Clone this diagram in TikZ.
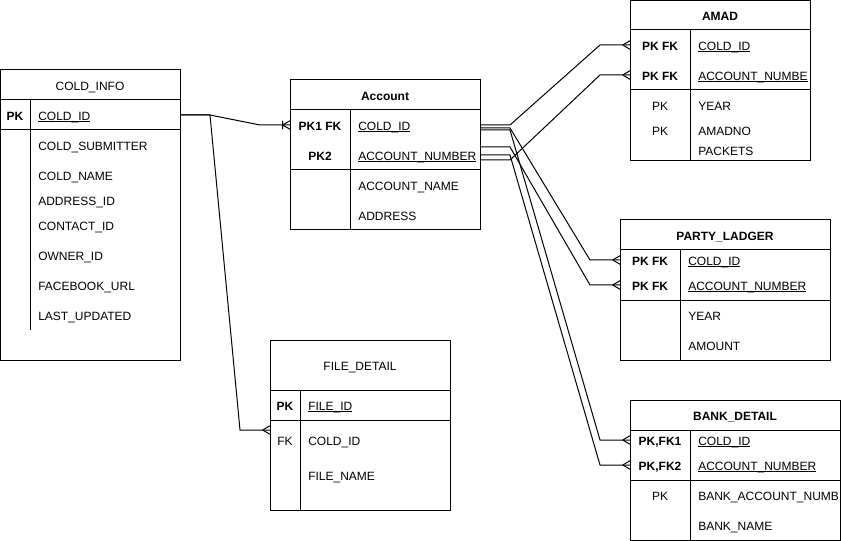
\documentclass[tikz,border=0pt]{standalone}
\usepackage{fontspec}
\setmainfont{Liberation Sans}
\usetikzlibrary{decorations.markings}
\newcommand{\keyname}[1]{\setbox0\hbox{#1}\rlap{\rule[-1.7pt]{\wd0}{0.7pt}}\box0}
\begin{document}
\begin{tikzpicture}[x=0.75pt,y=-0.75pt,
  tbl/.style={draw, line width=0.75pt, anchor=north west, inner sep=0pt, outer sep=0pt},
  rule/.style={line width=0.75pt},
  txtbase/.style={font=\fontsize{9}{11}\selectfont, inner sep=0pt, text height=6.5pt, text depth=0pt, yshift=-0.6pt},
  hd/.style={txtbase, font=\fontsize{9}{11}\selectfont\bfseries},
  hdl/.style={txtbase},
  kc/.style={txtbase, font=\fontsize{9}{11}\selectfont\bfseries},
  kn/.style={txtbase},
  fld/.style={txtbase, anchor=west},
  conn/.style={line width=0.75pt},
  crowfoot/.style={postaction={decorate, decoration={markings,
    mark=at position 1 with {\draw[line width=0.75pt] (-5.5pt,0pt) -- (0pt,3.2pt) (-5.5pt,0pt) -- (0pt,-3.2pt);}}}},
  onemany/.style={postaction={decorate, decoration={markings,
    mark=at position 1 with {\draw[line width=0.75pt] (-5.5pt,0pt) -- (0pt,3.2pt) (-5.5pt,0pt) -- (0pt,-3.2pt) (-5.5pt,-3.2pt) -- (-5.5pt,3.2pt);}}}}
]
\useasboundingbox (0,0) rectangle (841,541);

% ---------- COLD_INFO ----------
\node[tbl, minimum width={180*0.75pt}, minimum height={290*0.75pt}] (coldinfo) at (0,70) {};
\draw[rule] (0,100) -- (180,100) (0,130) -- (180,130) (30,100) -- (30,330);
\node[hdl] (ci-h) at (90,85) {COLD\_INFO};
\node[kc] (ci-k1) at (15,115) {PK};
\node[fld] (ci-f1) at (38,115) {\keyname{COLD\_ID}};
\node[fld] (ci-f2) at (38,145) {COLD\_SUBMITTER};
\node[fld] (ci-f3) at (38,175) {COLD\_NAME};
\node[fld] (ci-f4) at (38,200) {ADDRESS\_ID};
\node[fld] (ci-f5) at (38,225) {CONTACT\_ID};
\node[fld] (ci-f6) at (38,255) {OWNER\_ID};
\node[fld] (ci-f7) at (38,285) {FACEBOOK\_URL};
\node[fld] (ci-f8) at (38,315) {LAST\_UPDATED};

% ---------- Account ----------
\node[tbl, minimum width={190*0.75pt}, minimum height={150*0.75pt}] (account) at (290,80) {};
\draw[rule] (290,110) -- (480,110) (290,170) -- (480,170) (350,110) -- (350,230);
\node[hd] (ac-h) at (385,95) {Account};
\node[kc] (ac-k1) at (320,125) {PK1 FK};
\node[kc] (ac-k2) at (320,155) {PK2};
\node[fld] (ac-f1) at (358,125) {\keyname{COLD\_ID}};
\node[fld] (ac-f2) at (358,155) {\keyname{ACCOUNT\_NUMBER}};
\node[fld] (ac-f3) at (358,185) {ACCOUNT\_NAME};
\node[fld] (ac-f4) at (358,215) {ADDRESS};

% ---------- AMAD ----------
\node[tbl, minimum width={180*0.75pt}, minimum height={160*0.75pt}] (amad) at (630,0.5) {};
\draw[rule] (630,30) -- (810,30) (630,90) -- (810,90) (690,30) -- (690,160);
\node[hd] (am-h) at (720,15) {AMAD};
\node[kc] (am-k1) at (660,45) {PK FK};
\node[kc] (am-k2) at (660,75) {PK FK};
\node[kn] (am-k3) at (660,105) {PK};
\node[kn] (am-k4) at (660,130) {PK};
\node[fld] (am-f1) at (698,45) {\keyname{COLD\_ID}};
\node[fld] (am-f2) at (698,75) {\keyname{ACCOUNT\_NUMBE}};
\node[fld] (am-f3) at (698,105) {YEAR};
\node[fld] (am-f4) at (698,130) {AMADNO};
\node[fld] (am-f5) at (698,150) {PACKETS};

% ---------- PARTY_LADGER ----------
\node[tbl, minimum width={210*0.75pt}, minimum height={140*0.75pt}] (party) at (620,220) {};
\draw[rule] (620,250) -- (830,250) (620,300) -- (830,300) (680,250) -- (680,360);
\node[hd] (pl-h) at (725,235) {PARTY\_LADGER};
\node[kc] (pl-k1) at (650,260) {PK FK};
\node[kc] (pl-k2) at (650,285) {PK FK};
\node[fld] (pl-f1) at (688,260) {\keyname{COLD\_ID}};
\node[fld] (pl-f2) at (688,285) {\keyname{ACCOUNT\_NUMBER}};
\node[fld] (pl-f3) at (688,315) {YEAR};
\node[fld] (pl-f4) at (688,345) {AMOUNT};

% ---------- FILE_DETAIL ----------
\node[tbl, minimum width={180*0.75pt}, minimum height={170*0.75pt}] (file) at (270,340) {};
\draw[rule] (270,390) -- (450,390) (270,420) -- (450,420) (300,390) -- (300,510);
\node[hdl] (fd-h) at (360,365) {FILE\_DETAIL};
\node[kc] (fd-k1) at (285,405) {PK};
\node[kn] (fd-k2) at (285,440) {FK};
\node[fld] (fd-f1) at (308,405) {\keyname{FILE\_ID}};
\node[fld] (fd-f2) at (308,440) {COLD\_ID};
\node[fld] (fd-f3) at (308,475) {FILE\_NAME};

% ---------- BANK_DETAIL ----------
\node[tbl, minimum width={210*0.75pt}, minimum height={140*0.75pt}] (bank) at (630,400) {};
\draw[rule] (630,430) -- (840,430) (630,480) -- (840,480) (690,430) -- (690,540);
\node[hd] (bd-h) at (735,415) {BANK\_DETAIL};
\node[kc] (bd-k1) at (660,440) {PK,FK1};
\node[kc] (bd-k2) at (660,465) {PK,FK2};
\node[kn] (bd-k3) at (660,495) {PK};
\node[fld] (bd-f1) at (698,440) {\keyname{COLD\_ID}};
\node[fld] (bd-f2) at (698,465) {\keyname{ACCOUNT\_NUMBER}};
\node[fld] (bd-f3) at (698,495) {BANK\_ACCOUNT\_NUMB};
\node[fld] (bd-f4) at (698,525) {BANK\_NAME};

% ---------- connector end points ----------
\coordinate (ci-r) at (180,115);
\coordinate (ac-l) at (290,125);
\coordinate (fd-l) at (270,430);
\coordinate (ac-r1) at (480,125);
\coordinate (ac-r2) at (480,128);
\coordinate (ac-r3) at (480,130);
\coordinate (ac-r4) at (480,147);
\coordinate (ac-r5) at (480,155);
\coordinate (ac-r6) at (480,160);
\coordinate (am-l1) at (630,45);
\coordinate (am-l2) at (630,75);
\coordinate (pl-l1) at (620,260);
\coordinate (pl-l2) at (620,285);
\coordinate (bd-l1) at (630,440);
\coordinate (bd-l2) at (630,465);

% ---------- connectors ----------
\draw[conn, onemany] (ci-r) -- (210,115) -- (260,125) -- (ac-l);
\draw[conn, crowfoot] (ci-r) -- (210,115) -- (240,430) -- (fd-l);
\draw[conn, crowfoot] (ac-r1) -- (510,125) -- (600,45) -- (am-l1);
\draw[conn, crowfoot] (ac-r6) -- (510,160) -- (600,75) -- (am-l2);
\draw[conn, crowfoot] (ac-r2) -- (510,128) -- (590,260) -- (pl-l1);
\draw[conn, crowfoot] (ac-r4) -- (510,147) -- (590,285) -- (pl-l2);
\draw[conn, crowfoot] (ac-r3) -- (510,130) -- (600,440) -- (bd-l1);
\draw[conn, crowfoot] (ac-r5) -- (510,155) -- (600,465) -- (bd-l2);
\end{tikzpicture}
\end{document}
